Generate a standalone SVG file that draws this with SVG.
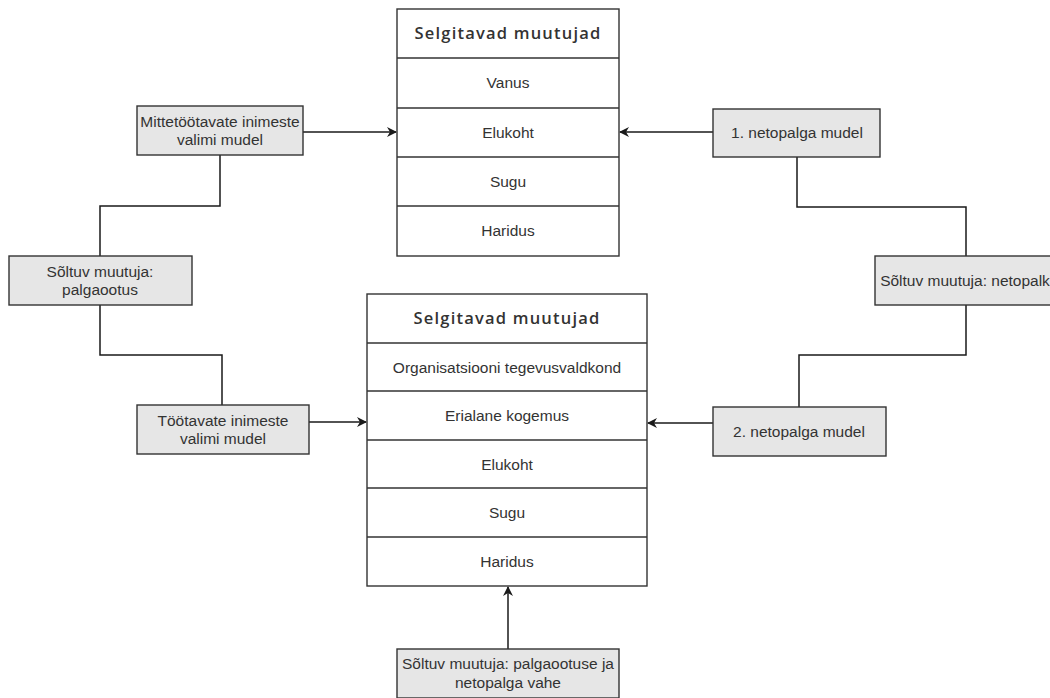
<svg xmlns="http://www.w3.org/2000/svg" width="1050" height="698" viewBox="0 0 1050 698">
<style>
.tbl{fill:#ffffff;stroke:#333333;stroke-width:1.4}
.box{fill:#e6e6e6;stroke:#333333;stroke-width:1.4}
.t{font-family:"Liberation Sans",Arial,sans-serif;font-size:15.5px;fill:#333333;text-anchor:middle}
.h{font-family:"Open Sans","Noto Sans",sans-serif;font-size:16.5px;font-weight:600;letter-spacing:1.2px;fill:#333333;text-anchor:middle}
.c{fill:none;stroke:#1a1a1a;stroke-width:1.5}
</style>
<defs>
<marker id="arr" viewBox="0 0 10 10" refX="9" refY="5" markerWidth="10" markerHeight="10" markerUnits="userSpaceOnUse" orient="auto">
<path d="M0,0 L10,5 L0,10 L3,5 Z" fill="#1a1a1a"/>
</marker>
</defs>
<rect width="1050" height="698" fill="#ffffff"/>
<g id="connectors">
<path class="c" d="M303,132 H396" marker-end="url(#arr)"/>
<path class="c" d="M713,132 H620" marker-end="url(#arr)"/>
<path class="c" d="M220,155 V206 H100 V256"/>
<path class="c" d="M100,305 V355 H222 V405"/>
<path class="c" d="M309,422 H366" marker-end="url(#arr)"/>
<path class="c" d="M797,157 V207 H966 V256"/>
<path class="c" d="M966,305 V355 H799 V407"/>
<path class="c" d="M713,423 H648" marker-end="url(#arr)"/>
<path class="c" d="M508,649 V587" marker-end="url(#arr)"/>
</g>
<g id="table1">
<rect class="tbl" x="397" y="9" width="222" height="247"/>
<line class="tbl" x1="397" y1="58" x2="619" y2="58"/>
<line class="tbl" x1="397" y1="108" x2="619" y2="108"/>
<line class="tbl" x1="397" y1="157" x2="619" y2="157"/>
<line class="tbl" x1="397" y1="206" x2="619" y2="206"/>
<text class="h" x="508" y="39">Selgitavad muutujad</text>
<text class="t" x="508" y="88">Vanus</text>
<text class="t" x="508" y="138">Elukoht</text>
<text class="t" x="508" y="187">Sugu</text>
<text class="t" x="508" y="236">Haridus</text>
</g>
<g id="table2">
<rect class="tbl" x="367" y="294" width="280" height="292"/>
<line class="tbl" x1="367" y1="343" x2="647" y2="343"/>
<line class="tbl" x1="367" y1="391" x2="647" y2="391"/>
<line class="tbl" x1="367" y1="440" x2="647" y2="440"/>
<line class="tbl" x1="367" y1="488" x2="647" y2="488"/>
<line class="tbl" x1="367" y1="537" x2="647" y2="537"/>
<text class="h" x="507" y="324">Selgitavad muutujad</text>
<text class="t" x="507" y="373">Organisatsiooni tegevusvaldkond</text>
<text class="t" x="507" y="421">Erialane kogemus</text>
<text class="t" x="507" y="470">Elukoht</text>
<text class="t" x="507" y="518">Sugu</text>
<text class="t" x="507" y="567">Haridus</text>
</g>
<g id="mittetootavate">
<rect class="box" x="137" y="106" width="166" height="49"/>
<text class="t" x="220" y="127">Mittetöötavate inimeste</text>
<text class="t" x="220" y="145">valimi mudel</text>
</g>
<g id="soltuv-palgaootus">
<rect class="box" x="9" y="256" width="183" height="49"/>
<text class="t" x="100" y="277">Sõltuv muutuja:</text>
<text class="t" x="100" y="295">palgaootus</text>
</g>
<g id="tootavate">
<rect class="box" x="137" y="405" width="172" height="49"/>
<text class="t" x="223" y="426">Töötavate inimeste</text>
<text class="t" x="223" y="444">valimi mudel</text>
</g>
<g id="netopalga1">
<rect class="box" x="713" y="109" width="167" height="48"/>
<text class="t" x="797" y="138">1. netopalga mudel</text>
</g>
<g id="soltuv-netopalk">
<rect class="box" x="875" y="256" width="182" height="49"/>
<text class="t" x="965" y="286">Sõltuv muutuja: netopalk</text>
</g>
<g id="netopalga2">
<rect class="box" x="713" y="407" width="173" height="49"/>
<text class="t" x="799" y="437">2. netopalga mudel</text>
</g>
<g id="soltuv-vahe">
<rect class="box" x="397" y="649" width="222" height="49"/>
<text class="t" x="508" y="669">Sõltuv muutuja: palgaootuse ja</text>
<text class="t" x="508" y="688">netopalga vahe</text>
</g>
</svg>
